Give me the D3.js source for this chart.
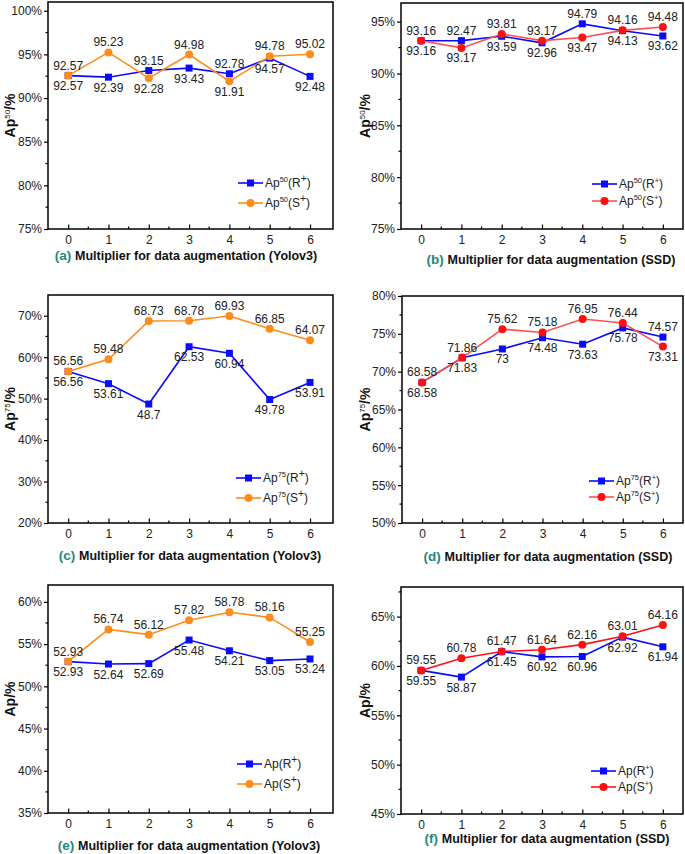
<!DOCTYPE html>
<html><head><meta charset="utf-8">
<script src="https://cdn.jsdelivr.net/npm/d3@7"></script>
<style>body{margin:0;background:#fff}svg{display:block;font-family:"Liberation Sans",Arial,sans-serif}</style>
</head><body><svg id="c" width="685" height="854"></svg>
<script>
// ---------- data ----------
const multipliers = [0, 1, 2, 3, 4, 5, 6];

const ap50R_yolo = [92.57, 92.39, 93.15, 93.43, 92.78, 94.57, 92.48];
const ap50S_yolo = [92.57, 95.23, 92.28, 94.98, 91.91, 94.78, 95.02];
const ap50R_ssd  = [93.16, 93.17, 93.59, 92.96, 94.79, 94.13, 93.62];
const ap50S_ssd  = [93.16, 92.47, 93.81, 93.17, 93.47, 94.16, 94.48];
// printed labels in panel (b) as they appear in the figure
const ap50R_ssd_labels = ["93.16", "92.47", "93.59", "92.96", "94.79", "94.13", "93.62"];
const ap50S_ssd_labels = ["93.16", "93.17", "93.81", "93.17", "93.47", "94.16", "94.48"];

const ap75R_yolo = [56.56, 53.61, 48.7, 62.53, 60.94, 49.78, 53.91];
const ap75S_yolo = [56.56, 59.48, 68.73, 68.78, 69.93, 66.85, 64.07];
const ap75R_ssd  = [68.58, 71.83, 73, 74.48, 73.63, 75.78, 74.57];
const ap75S_ssd  = [68.58, 71.86, 75.62, 75.18, 76.95, 76.44, 73.31];

const apR_yolo = [52.93, 52.64, 52.69, 55.48, 54.21, 53.05, 53.24];
const apS_yolo = [52.93, 56.74, 56.12, 57.82, 58.78, 58.16, 55.25];
const apR_ssd  = [59.55, 58.87, 61.45, 60.92, 60.96, 62.92, 61.94];
const apS_ssd  = [59.55, 60.78, 61.47, 61.64, 62.16, 63.01, 64.16];

const yTicks_a = [75, 80, 85, 90, 95, 100];
const yTicks_b = [75, 80, 85, 90, 95];
const yTicks_c = [20, 30, 40, 50, 60, 70];
const yTicks_d = [50, 55, 60, 65, 70, 75, 80];
const yTicks_e = [35, 40, 45, 50, 55, 60];
const yTicks_f = [45, 50, 55, 60, 65];

const captionYolo = "Multiplier for data augmentation (Yolov3)";
const captionSSD  = "Multiplier for data augmentation (SSD)";

// ---------- drawing ----------
const svg = d3.select("#c");
const BLUE = "#0a0aff", ORANGE = "#ff8c1a", RED = "#ff1010", RED_LINE = "#ff5050", TEAL = "#1e8a78";
const FONT = "Liberation Sans, Arial, sans-serif";

const panels = [
  {id:"a", l:48, r:333, t:2, b:229, yd:[75,101], yt:yTicks_a, ym:2.5, R:ap50R_yolo, S:ap50S_yolo, sCol:ORANGE, sLine:ORANGE,
   metric:"50", bigPlus:true, cap:captionYolo, capX:186, capY:260, titleX:15, legX:238, legY:183, legDy:20},
  {id:"b", l:401, r:683, t:3, b:229, yd:[75,96.8], yt:yTicks_b, ym:2.5, R:ap50R_ssd, S:ap50S_ssd, RL:ap50R_ssd_labels, SL:ap50S_ssd_labels,
   sCol:RED, sLine:RED_LINE, metric:"50", bigPlus:false, cap:captionSSD, capX:551, capY:264, titleX:370, legX:592, legY:184, legDy:17},
  {id:"c", l:48, r:333, t:295, b:523, yd:[20,75], yt:yTicks_c, ym:5, R:ap75R_yolo, S:ap75S_yolo, sCol:ORANGE, sLine:ORANGE,
   metric:"75", bigPlus:true, cap:captionYolo, capX:190, capY:560, titleX:15, legX:236, legY:478, legDy:20},
  {id:"d", l:402, r:683, t:296, b:523, yd:[50,80], yt:yTicks_d, ym:2.5, R:ap75R_ssd, S:ap75S_ssd, sCol:RED, sLine:RED_LINE,
   metric:"75", bigPlus:false, cap:captionSSD, capX:548, capY:561, titleX:370, legX:589, legY:481, legDy:16},
  {id:"e", l:48, r:333, t:585, b:813, yd:[35,62], yt:yTicks_e, ym:2.5, R:apR_yolo, S:apS_yolo, sCol:ORANGE, sLine:ORANGE,
   metric:"", bigPlus:true, cap:captionYolo, capX:189, capY:850, titleX:15, legX:237, legY:764, legDy:20},
  {id:"f", l:401, r:683, t:587, b:814, yd:[45,68], yt:yTicks_f, ym:2.5, R:apR_ssd, S:apS_ssd, sCol:RED, sLine:RED,
   metric:"", bigPlus:false, cap:captionSSD, capX:547, capY:843, titleX:370, legX:591, legY:771, legDy:16},
];

function apLabel(sel, metric, letter, plusBig, size, supSize){
  sel.append("tspan").text("Ap");
  if (metric) sel.append("tspan").attr("font-size", supSize).attr("dy", -size*0.42).text(metric);
  sel.append("tspan").attr("dy", metric ? size*0.42 : 0).text("(" + letter);
  sel.append("tspan").attr("font-size", plusBig ? size*0.85 : supSize).attr("dy", -size*0.42).text("+");
  sel.append("tspan").attr("dy", size*0.42).text(")");
}

panels.forEach(p => {
  const g = svg.append("g");
  const x = d3.scaleLinear().domain(p.l < 200 ? [-0.5, 6.57] : [-0.5, 6.5]).range([p.l, p.r]);
  const y = d3.scaleLinear().domain(p.yd).range([p.b, p.t]);

  // y axis
  const ya = g.append("g").attr("transform", `translate(${p.l},0)`)
    .call(d3.axisLeft(y).tickValues(p.yt).tickSize(4).tickSizeOuter(0).tickPadding(2).tickFormat(d => d + "%"));
  ya.select(".domain").remove();
  ya.selectAll("text").attr("font-size", 12).attr("fill", "#222").attr("font-family", FONT);
  ya.selectAll("line").attr("stroke-width", 1.2);
  const yminor = d3.range(p.yd[0] + p.ym, p.yd[1], p.ym * 2);
  g.selectAll(".ym").data(yminor).join("line")
    .attr("x1", p.l - 2.5).attr("x2", p.l).attr("y1", d => y(d)).attr("y2", d => y(d))
    .attr("stroke", "#000").attr("stroke-width", 1.2);

  // x axis (ticks inward)
  const xa = g.append("g").attr("transform", `translate(0,${p.b})`)
    .call(d3.axisBottom(x).tickValues(multipliers).tickSize(-4.5).tickSizeOuter(0).tickPadding(6).tickFormat(d3.format("d")));
  xa.select(".domain").remove();
  xa.selectAll("text").attr("font-size", 12).attr("fill", "#222").attr("font-family", FONT);
  xa.selectAll("line").attr("stroke-width", 1.2);
  g.selectAll(".xm").data(multipliers.slice(0, -1).map(d => d + 0.5)).join("line")
    .attr("x1", d => x(d)).attr("x2", d => x(d)).attr("y1", p.b).attr("y2", p.b - 2.5)
    .attr("stroke", "#000").attr("stroke-width", 1.2);

  // frame
  g.append("rect").attr("x", p.l).attr("y", p.t).attr("width", p.r - p.l).attr("height", p.b - p.t)
    .attr("fill", "none").attr("stroke", "#000").attr("stroke-width", 1.5);

  // lines
  const line = d3.line().x((d, i) => x(multipliers[i])).y(d => y(d));
  g.append("path").datum(p.R).attr("d", line).attr("fill", "none").attr("stroke", BLUE).attr("stroke-width", 1.6);
  g.selectAll(".sqr").data(p.R).join("rect")
    .attr("x", (d, i) => x(multipliers[i]) - 3.5).attr("y", d => y(d) - 3.5)
    .attr("width", 7).attr("height", 7).attr("fill", BLUE);
  g.append("path").datum(p.S).attr("d", line).attr("fill", "none").attr("stroke", p.sLine).attr("stroke-width", 1.6);
  g.selectAll(".cir").data(p.S).join("circle")
    .attr("cx", (d, i) => x(multipliers[i])).attr("cy", d => y(d)).attr("r", 4).attr("fill", p.sCol);

  // data labels
  const lab = (vals, other, texts, isS) => {
    g.selectAll(null).data(vals).join("text")
      .attr("x", (d, i) => x(multipliers[i]))
      .attr("y", (d, i) => {
        const above = isS ? d >= other[i] : d > other[i];
        return above ? y(d) - 6 : y(d) + 14.5;
      })
      .attr("text-anchor", "middle").attr("font-size", 12).attr("fill", "#222")
      .text((d, i) => texts ? texts[i] : String(d));
  };
  lab(p.R, p.S, p.RL, false);
  lab(p.S, p.R, p.SL, true);

  // legend
  [[BLUE, BLUE, "R", "sq"], [p.sLine, p.sCol, "S", "ci"]].forEach((it, k) => {
    const ly = p.legY + k * p.legDy;
    g.append("line").attr("x1", p.legX).attr("x2", p.legX + 25).attr("y1", ly).attr("y2", ly)
      .attr("stroke", it[0]).attr("stroke-width", 1.6);
    if (it[3] === "sq") g.append("rect").attr("x", p.legX + 9).attr("y", ly - 3.5).attr("width", 7).attr("height", 7).attr("fill", it[1]);
    else g.append("circle").attr("cx", p.legX + 12.5).attr("cy", ly).attr("r", 4).attr("fill", it[1]);
    const t = g.append("text").attr("x", p.legX + 27).attr("y", ly + 4).attr("font-size", 12).attr("fill", "#222");
    apLabel(t, p.metric, it[2], p.bigPlus, 12, 7.5);
  });

  // y title
  const cy = (p.t + p.b) / 2;
  const tt = g.append("text").attr("transform", `translate(${p.titleX},${cy}) rotate(-90)`)
    .attr("text-anchor", "middle").attr("font-size", 14).attr("font-weight", "bold").attr("fill", "#111");
  tt.append("tspan").text("Ap");
  if (p.metric) {
    tt.append("tspan").attr("font-size", 8).attr("font-weight", "normal").attr("dy", -5.5).text(p.metric);
    tt.append("tspan").attr("dy", 5.5).text("/%");
  } else tt.append("tspan").text("/%");

  // caption
  const ct = g.append("text").attr("x", p.capX).attr("y", p.capY).attr("text-anchor", "middle")
    .attr("font-size", 12.5).attr("font-weight", "bold").attr("fill", "#111");
  ct.append("tspan").attr("fill", TEAL).attr("font-size", 13.5).text("(" + p.id + ") ");
  ct.append("tspan").text(p.cap);
});
</script></body></html>
